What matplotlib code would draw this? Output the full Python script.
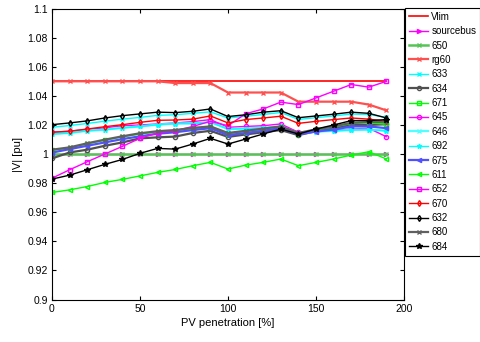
import matplotlib.pyplot as plt
import numpy as np

plt.rcParams['font.family'] = ['Liberation Sans', 'DejaVu Sans']

# PV penetration levels [%]
pv = [0, 10, 20, 30, 40, 50, 60, 70, 80, 90, 100, 110, 120, 130, 140, 150, 160, 170, 180, 190]

vlim = [1.05] * 20
sourcebus = [1.0] * 20
b650 = [1.0] * 20
rg60 = [1.05, 1.05, 1.05, 1.05, 1.05, 1.05, 1.05, 1.0488, 1.0488, 1.0488,
        1.0423, 1.0423, 1.0423, 1.0423, 1.036, 1.036, 1.036, 1.036, 1.034, 1.030]
b633 = [1.0184, 1.0196, 1.021, 1.0226, 1.024, 1.0252, 1.0266, 1.027, 1.028, 1.029,
        1.0248, 1.026, 1.0272, 1.0286, 1.0238, 1.025, 1.0262, 1.0275, 1.0272, 1.0252]
b634 = [0.997, 1.0011, 1.003, 1.0057, 1.008, 1.0108, 1.0115, 1.012, 1.0145, 1.016,
        1.0118, 1.0135, 1.015, 1.0165, 1.013, 1.0158, 1.018, 1.020, 1.020, 1.0205]
b671 = [1.0025, 1.0042, 1.007, 1.0095, 1.0118, 1.0138, 1.0152, 1.016, 1.0175, 1.0186,
        1.014, 1.0155, 1.017, 1.0186, 1.014, 1.0165, 1.0186, 1.021, 1.0215, 1.0205]
b645 = [1.015, 1.0157, 1.017, 1.018, 1.0195, 1.020, 1.0207, 1.0214, 1.0223, 1.0237,
        1.0184, 1.019, 1.0195, 1.0207, 1.015, 1.0157, 1.0166, 1.0172, 1.0177, 1.0119]
b646 = [1.0138, 1.0145, 1.016, 1.0168, 1.018, 1.019, 1.0202, 1.021, 1.021, 1.022,
        1.0172, 1.0175, 1.018, 1.019, 1.0143, 1.0154, 1.0159, 1.0166, 1.0168, 1.016]
b692 = [1.0138, 1.0145, 1.016, 1.0168, 1.018, 1.019, 1.0202, 1.021, 1.021, 1.022,
        1.0172, 1.0175, 1.018, 1.019, 1.0143, 1.0154, 1.0159, 1.0166, 1.0168, 1.016]
b675 = [1.001, 1.0034, 1.0057, 1.008, 1.0103, 1.0122, 1.014, 1.015, 1.0165, 1.0178,
        1.013, 1.0145, 1.016, 1.0178, 1.0135, 1.0155, 1.0168, 1.019, 1.019, 1.0178]
b611 = [0.9736, 0.9754, 0.9777, 0.9805, 0.9826, 0.985, 0.9874, 0.9894, 0.992, 0.9943,
        0.9897, 0.9924, 0.9943, 0.9966, 0.992, 0.9943, 0.9966, 0.9993, 1.0016, 0.9966]
b652 = [0.9834, 0.9892, 0.9947, 1.000, 1.0053, 1.0108, 1.0145, 1.016, 1.019, 1.0225,
        1.0195, 1.0277, 1.031, 1.0357, 1.034, 1.0386, 1.0432, 1.0478, 1.046, 1.050]
b670 = [1.015, 1.0157, 1.0172, 1.0188, 1.0202, 1.0218, 1.0232, 1.0234, 1.024, 1.0262,
        1.0214, 1.0237, 1.0248, 1.026, 1.0211, 1.0225, 1.0237, 1.0248, 1.024, 1.0225]
b632 = [1.0202, 1.0214, 1.0228, 1.0248, 1.0264, 1.0276, 1.0288, 1.0285, 1.0294, 1.031,
        1.0258, 1.027, 1.0288, 1.0298, 1.025, 1.0262, 1.0274, 1.0288, 1.028, 1.0248]
b680 = [1.003, 1.0046, 1.0074, 1.0099, 1.0122, 1.0143, 1.0157, 1.0165, 1.018, 1.019,
        1.0145, 1.016, 1.0175, 1.019, 1.0145, 1.017, 1.019, 1.0215, 1.022, 1.0222]
b684 = [0.9828, 0.9855, 0.9892, 0.9929, 0.9963, 1.0005, 1.0039, 1.0034, 1.0069, 1.0108,
        1.0069, 1.0103, 1.0138, 1.0172, 1.0138, 1.0172, 1.020, 1.023, 1.023, 1.0237]

series = [
    ('Vlim', vlim, dict(color='#ff0000', lw=1.2)),
    ('sourcebus', sourcebus, dict(color='#ff00ff', marker='>', ms=3)),
    ('650', b650, dict(color='#55c455', marker='x', ms=3, lw=1.8)),
    ('rg60', rg60, dict(color='#ff5050', marker='x', ms=3, lw=1.6)),
    ('633', b633, dict(color='#00ffff', marker='x', ms=3)),
    ('634', b634, dict(color='#505050', marker='o', ms=3, mfc='none', lw=1.6)),
    ('671', b671, dict(color='#00ff00', marker='s', ms=2.8, mfc='none')),
    ('645', b645, dict(color='#ff00ff', marker='o', ms=3, mfc='none')),
    ('646', b646, dict(color='#50ffff', marker='x', ms=3, lw=1.6)),
    ('692', b692, dict(color='#00ffff', marker='*', ms=3.5)),
    ('675', b675, dict(color='#5050ff', marker='<', ms=3, lw=1.6)),
    ('611', b611, dict(color='#00ff00', marker='<', ms=3, mfc='none')),
    ('652', b652, dict(color='#ff00ff', marker='s', ms=2.8, mfc='none')),
    ('670', b670, dict(color='#ff0000', marker='d', ms=3, mfc='none')),
    ('632', b632, dict(color='#000000', marker='d', ms=3, mfc='none')),
    ('680', b680, dict(color='#606060', marker='x', ms=3, lw=1.6)),
    ('684', b684, dict(color='#000000', marker='*', ms=4)),
]

fig = plt.figure(figsize=(4.81, 3.42), dpi=100)
ax = fig.add_axes([0.108, 0.124, 0.732, 0.851])

for name, vals, style in series:
    kw = dict(lw=1.0)
    kw.update(style)
    ax.plot(pv, vals, label=name, **kw)

ax.set_xlim(0, 200)
ax.set_ylim(0.9, 1.1)
ax.set_xticks([0, 50, 100, 150, 200])
ax.set_yticks(np.arange(0.9, 1.101, 0.02))
ax.set_yticklabels(['0.9', '0.92', '0.94', '0.96', '0.98', '1', '1.02', '1.04', '1.06', '1.08', '1.1'])
ax.tick_params(direction='in', top=True, right=True, labelsize=7.5, length=3, width=0.8, pad=3)
ax.set_xlabel('PV penetration [%]', fontsize=8, labelpad=3)
ax.set_ylabel('|V| [pu]', fontsize=8, labelpad=3)
for sp in ax.spines.values():
    sp.set_linewidth(0.8)

leg = ax.legend(loc='upper left', bbox_to_anchor=(0.842, 0.977), bbox_transform=fig.transFigure,
                borderaxespad=0, fontsize=7, fancybox=False, edgecolor='black',
                handlelength=2.0, handletextpad=0.3, labelspacing=0.45, borderpad=0.4,
                framealpha=1)
leg.get_frame().set_linewidth(0.8)

fig.savefig('out.png', dpi=100)
